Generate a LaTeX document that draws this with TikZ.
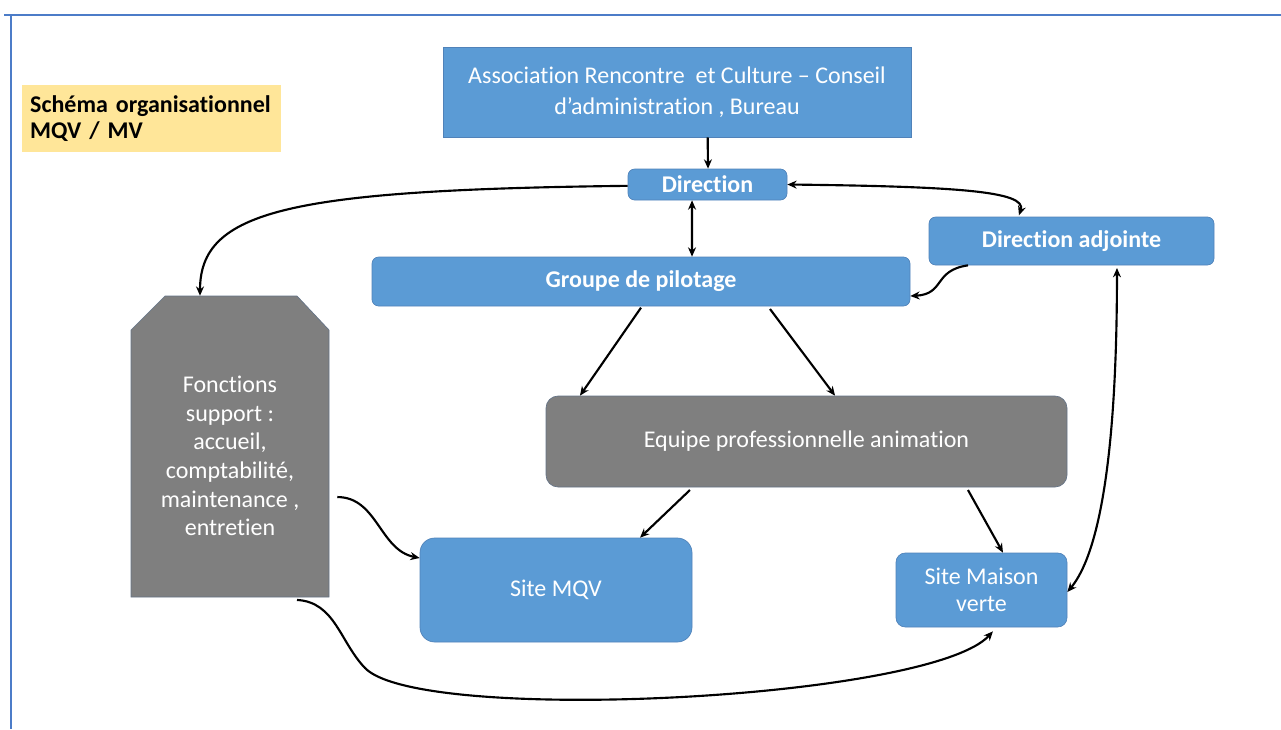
\documentclass[tikz,border=0pt]{standalone}
\usepackage{fontspec}
\setmainfont{Carlito}[Ligatures={NoCommon,TeX}]
\usetikzlibrary{arrows.meta}
\definecolor{boxblue}{RGB}{91,155,213}
\definecolor{boxline}{RGB}{80,130,185}
\definecolor{boxgray}{RGB}{127,127,127}
\definecolor{grayline}{RGB}{100,115,135}
\definecolor{titleyellow}{RGB}{255,230,153}
\definecolor{framecol}{RGB}{76,124,200}
\begin{document}
\begin{tikzpicture}[x=0.75pt,y=-0.75pt,
  txt/.style={font=\fontsize{18}{21.5}\selectfont, align=center, inner sep=0pt},
  bluebox/.style={txt, fill=boxblue, draw=boxline, line width=0.5pt, rounded corners=5pt, text=white},
  graybox/.style={txt, fill=boxgray, draw=grayline, line width=0.5pt, rounded corners=9pt, text=white},
  conn/.style={line width=1.6pt, -{Stealth[length=7pt,width=6pt]}},
  dconn/.style={line width=1.6pt, {Stealth[length=7pt,width=6pt]}-{Stealth[length=7pt,width=6pt]}}
]
\useasboundingbox (0,0) rectangle (1281,729);
% frame
\draw[framecol, line width=1.7pt] (4,15) -- (1281,15);
\draw[framecol, line width=1.7pt] (11,15) -- (11,729);

% title
\node[txt, fill=titleyellow, minimum width=194.25pt, minimum height=50.25pt, align=left, text width=182pt, font=\fontsize{18}{20}\bfseries] (title) at (151.5,118.5) {Schéma organisationnel\\MQV / MV};

% nodes
\node[bluebox, rounded corners=0pt, minimum width=351pt, minimum height=67.5pt, font=\fontsize{18}{23}\selectfont] (top) at (677,92) {Association Rencontre\ \ et Culture – Conseil\\d’administration , Bureau};
\node[bluebox, minimum width=119.25pt, minimum height=23.25pt, font=\fontsize{18}{22}\bfseries] (dir) at (707.5,184.5) {Direction};
\node[bluebox, minimum width=213.75pt, minimum height=36pt, font=\fontsize{18}{22}\bfseries] (adj) at (1071.5,241) {Direction adjointe};
\node[bluebox, minimum width=403.5pt, minimum height=36.75pt, font=\fontsize{18}{22}\bfseries] (grp) at (641,281.5) {Groupe de pilotage};
\node[graybox, minimum width=390.75pt, minimum height=68.25pt] (equipe) at (806.5,441.5) {Equipe professionnelle animation};
\node[bluebox, rounded corners=11pt, minimum width=204pt, minimum height=78pt] (mqv) at (556,590) {Site MQV};
\node[bluebox, rounded corners=7pt, minimum width=128.25pt, minimum height=55.5pt, font=\fontsize{18}{20.5}\selectfont] (mv) at (981.5,590) {Site Maison\\verte};

% Fonctions support shape
\filldraw[fill=boxgray, draw=grayline, line width=0.5pt] (165,296) -- (297,296) -- (329,330) -- (329,597) -- (131,597) -- (131,330) -- cycle;
\node[inner sep=0pt, minimum width=148.5pt, minimum height=225.75pt] (fonc) at (230,446.5) {};
\node[txt, text=white] (fonctxt) at (230,456) {Fonctions\\support :\\accueil,\\comptabilité,\\maintenance ,\\entretien};

% connectors
\draw[conn] ([xshift=23pt]top.south) -- ([xshift=0.4pt]dir.north);
\draw[dconn] ([xshift=-11.6pt]dir.south) -- ([xshift=38.25pt]grp.north);
\draw[dconn] (dir.east) .. controls +(170,2) and +(8,-24) .. ([xshift=-39.4pt,yshift=1pt]adj.north);
\draw[conn] ([xshift=-77.6pt]adj.south) .. controls +(-35,5) and +(35,-2) .. ([yshift=-10.9pt]grp.east);
\draw[conn] ([yshift=-1pt]dir.west) .. controls +(-340,4) and +(0,-85) .. ([xshift=-22.5pt]fonc.north);
\draw[conn] ([yshift=-1pt]grp.south) -- ([xshift=-169.9pt]equipe.north);
\draw[conn] ([xshift=96.75pt,yshift=-2pt]grp.south) -- ([xshift=21.4pt]equipe.north);
\draw[conn] ([xshift=-87.4pt,yshift=-2pt]equipe.south) -- ([xshift=63pt]mqv.north);
\draw[conn] ([xshift=121.1pt,yshift=-2pt]equipe.south) -- ([xshift=16.1pt]mv.north);
\draw[conn] ([xshift=6pt,yshift=-37.9pt]fonc.east) .. controls +(40,0) and +(-40,-8) .. ([yshift=24pt]mqv.west);
\draw[conn] ([xshift=50.25pt,yshift=-2pt]fonc.south) .. controls (335,602) and (340,642) .. (365,668)
   .. controls (420,725) and (930,700) .. ([xshift=8.6pt,yshift=-3pt]mv.south);
\draw[dconn] ([xshift=34.1pt,yshift=-2pt]adj.south) .. controls +(0,220) and +(25,-30) .. ([yshift=-1.5pt]mv.east);
\end{tikzpicture}
\end{document}
